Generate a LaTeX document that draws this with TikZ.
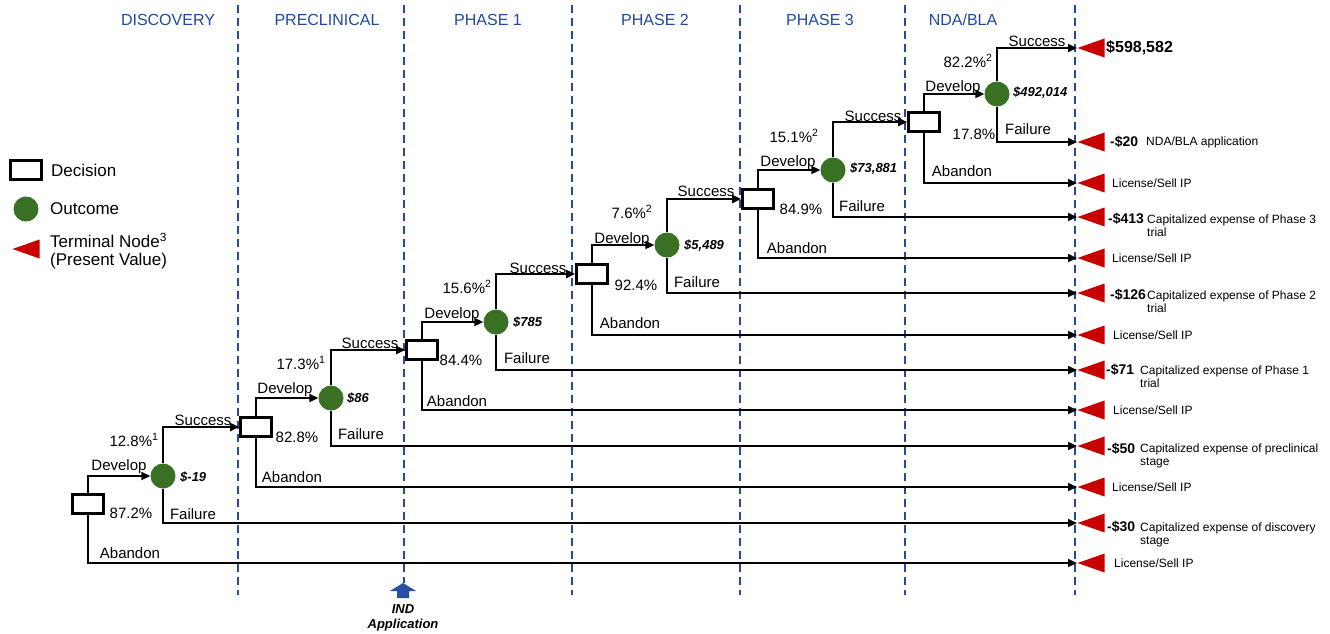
\documentclass[tikz,border=0pt]{standalone}
\usepackage{fontspec}
\setmainfont{Liberation Sans}
\usetikzlibrary{arrows.meta,shapes.geometric}
\definecolor{stageblue}{RGB}{31,73,160}
\definecolor{dashblue}{RGB}{35,75,155}
\definecolor{outgreen}{RGB}{58,112,35}
\definecolor{termred}{RGB}{200,0,0}
\definecolor{indblue}{RGB}{40,80,165}
\begin{document}
\begin{tikzpicture}[x=1pt,y=-1pt,
  decision/.style={draw=black, line width=2.8pt, fill=white, minimum width=31pt, minimum height=19pt, inner sep=0pt},
  outcome/.style={circle, fill=outgreen, minimum size=25pt, inner sep=0pt},
  terminal/.style={isosceles triangle, shape border rotate=180, isosceles triangle stretches, fill=termred, minimum width=19pt, minimum height=27pt, inner sep=0pt, anchor=apex},
  edge/.style={line width=2pt, -{Triangle[length=9pt,width=8pt]}},
  stagesep/.style={draw=dashblue, line width=1.8pt, dash pattern=on 8pt off 5pt},
  stagelbl/.style={font=\fontsize{16}{18}\selectfont, text=stageblue, inner sep=0pt},
  lbl/.style={font=\fontsize{15}{17}\selectfont, inner sep=0pt},
  val/.style={font=\fontsize{13}{15}\selectfont\bfseries\itshape, inner sep=0pt, anchor=west},
  amt/.style={font=\fontsize{14}{16}\selectfont\bfseries, inner sep=0pt, anchor=west},
  desc/.style={font=\fontsize{12}{13}\selectfont, inner sep=0pt, anchor=west, align=left},
  leg/.style={font=\fontsize{17}{20}\selectfont, inner sep=0pt, anchor=west, align=left},
]
\useasboundingbox (0,0) rectangle (1330,633);

% stage separators
\foreach \xx in {238,572,740,905,1075} \draw[stagesep] (\xx,5) -- (\xx,595);
\draw[stagesep] (404,5) -- (404,583);

% stage labels
\node[stagelbl] (sDisc) at (168,20) {DISCOVERY};
\node[stagelbl] (sPre) at (327,20) {PRECLINICAL};
\node[stagelbl] (sP1) at (488,20) {PHASE 1};
\node[stagelbl] (sP2) at (655,20) {PHASE 2};
\node[stagelbl] (sP3) at (820,20) {PHASE 3};
\node[stagelbl] (sNDA) at (963,20) {NDA/BLA};

% legend
\node[decision] (legD) at (26,170) {};
\node[leg] (legDt) at (51,170) {Decision};
\node[outcome] (legO) at (26,209) {};
\node[leg] (legOt) at (50,209) {Outcome};
\node[terminal] (legT) at (12,249) {};
\node[leg] (legTt) at (50,251) {Terminal Node\textsuperscript{3}\\[-2pt](Present Value)};

% decision and outcome nodes
\node[decision] (d1) at (88,504) {};
\node[outcome] (o1) at (163,476) {};
\node[decision] (d2) at (256,427) {};
\node[outcome] (o2) at (331,398) {};
\node[decision] (d3) at (422,350) {};
\node[outcome] (o3) at (496,322) {};
\node[decision] (d4) at (592,274) {};
\node[outcome] (o4) at (667,245) {};
\node[decision] (d5) at (758,199) {};
\node[outcome] (o5) at (833,170) {};
\node[decision] (d6) at (924,122) {};
\node[outcome] (o6) at (997,94) {};

% terminal nodes
\node[terminal] (tS6) at (1077,48) {};
\node[terminal] (tF6) at (1077,142) {};
\node[terminal] (tA6) at (1077,183) {};
\node[terminal] (tF5) at (1077,217) {};
\node[terminal] (tA5) at (1077,258) {};
\node[terminal] (tF4) at (1077,293) {};
\node[terminal] (tA4) at (1077,335) {};
\node[terminal] (tF3) at (1077,370) {};
\node[terminal] (tA3) at (1077,410) {};
\node[terminal] (tF2) at (1077,446) {};
\node[terminal] (tA2) at (1077,487) {};
\node[terminal] (tF1) at (1077,523) {};
\node[terminal] (tA1) at (1077,563) {};

% connectors
\draw[edge] (d1.north) |- (o1.west);
\draw[edge] (d1.south) |- (tA1.apex);
\draw[edge] (o1.north) |- (d2.west);
\draw[edge] (o1.south) |- (tF1.apex);
\draw[edge] (d2.north) |- (o2.west);
\draw[edge] (d2.south) |- (tA2.apex);
\draw[edge] (o2.north) |- (d3.west);
\draw[edge] (o2.south) |- (tF2.apex);
\draw[edge] (d3.north) |- (o3.west);
\draw[edge] (d3.south) |- (tA3.apex);
\draw[edge] (o3.north) |- (d4.west);
\draw[edge] (o3.south) |- (tF3.apex);
\draw[edge] (d4.north) |- (o4.west);
\draw[edge] (d4.south) |- (tA4.apex);
\draw[edge] (o4.north) |- (d5.west);
\draw[edge] (o4.south) |- (tF4.apex);
\draw[edge] (d5.north) |- (o5.west);
\draw[edge] (d5.south) |- (tA5.apex);
\draw[edge] (o5.north) |- (d6.west);
\draw[edge] (o5.south) |- (tF5.apex);
\draw[edge] (d6.north) |- (o6.west);
\draw[edge] (d6.south) |- (tA6.apex);
\draw[edge] (o6.north) |- (tS6.apex);
\draw[edge] (o6.south) |- (tF6.apex);

% develop labels
\node[lbl] (dv1) at (119,467) {Develop};
\node[lbl] (dv2) at (285,390) {Develop};
\node[lbl] (dv3) at (452,315) {Develop};
\node[lbl] (dv4) at (622,240) {Develop};
\node[lbl] (dv5) at (788,163) {Develop};
\node[lbl] (dv6) at (953,88) {Develop};
% success labels
\node[lbl] (sc1) at (203,420) {Success};
\node[lbl] (sc2) at (370,343) {Success};
\node[lbl] (sc3) at (538,268) {Success};
\node[lbl] (sc4) at (706,191) {Success};
\node[lbl] (sc5) at (873,116) {Success};
\node[lbl] (sc6) at (1037,41) {Success};
% success probabilities
\node[lbl] (ps1) at (134,440) {12.8\%\textsuperscript{1}};
\node[lbl] (ps2) at (301,363) {17.3\%\textsuperscript{1}};
\node[lbl] (ps3) at (467,287) {15.6\%\textsuperscript{2}};
\node[lbl] (ps4) at (632,212) {7.6\%\textsuperscript{2}};
\node[lbl] (ps5) at (794,136) {15.1\%\textsuperscript{2}};
\node[lbl] (ps6) at (968,61) {82.2\%\textsuperscript{2}};
% failure probabilities
\node[lbl] (pf1) at (131,513) {87.2\%};
\node[lbl] (pf2) at (297,437) {82.8\%};
\node[lbl] (pf3) at (461,360) {84.4\%};
\node[lbl] (pf4) at (636,285) {92.4\%};
\node[lbl] (pf5) at (801,209) {84.9\%};
\node[lbl] (pf6) at (974,134) {17.8\%};
% failure labels
\node[lbl] (fl1) at (193,514) {Failure};
\node[lbl] (fl2) at (361,434) {Failure};
\node[lbl] (fl3) at (527,358) {Failure};
\node[lbl] (fl4) at (697,282) {Failure};
\node[lbl] (fl5) at (862,206) {Failure};
\node[lbl] (fl6) at (1028,129) {Failure};
% abandon labels
\node[lbl] (ab1) at (130,553) {Abandon};
\node[lbl] (ab2) at (292,477) {Abandon};
\node[lbl] (ab3) at (457,401) {Abandon};
\node[lbl] (ab4) at (630,323) {Abandon};
\node[lbl] (ab5) at (797,248) {Abandon};
\node[lbl] (ab6) at (962,171) {Abandon};
% outcome values
\node[val] (v1) at (180,477) {\$-19};
\node[val] (v2) at (347,398) {\$86};
\node[val] (v3) at (513,322) {\$785};
\node[val] (v4) at (684,246) {\$5,489};
\node[val] (v5) at (850,169) {\$73,881};
\node[val] (v6) at (1013,93) {\$492,014};

% terminal values
\node[amt, font=\fontsize{16}{18}\selectfont\bfseries] (aS6) at (1106,48) {\$598,582};
\node[amt] (aF6) at (1110,142) {-\$20};
\node[desc] (eF6) at (1146,142) {NDA/BLA application};
\node[desc] (eA6) at (1112,183) {License/Sell IP};
\node[amt] (aF5) at (1108,219) {-\$413};
\node[desc] (eF5) at (1147,226) {Capitalized expense of Phase 3\\trial};
\node[desc] (eA5) at (1112,258) {License/Sell IP};
\node[amt] (aF4) at (1110,295) {-\$126};
\node[desc] (eF4) at (1147,302) {Capitalized expense of Phase 2\\trial};
\node[desc] (eA4) at (1113,335) {License/Sell IP};
\node[amt] (aF3) at (1106,370) {-\$71};
\node[desc] (eF3) at (1140,377) {Capitalized expense of Phase 1\\trial};
\node[desc] (eA3) at (1113,410) {License/Sell IP};
\node[amt] (aF2) at (1107,449) {-\$50};
\node[desc] (eF2) at (1140,456) {Capitalized expense of preclinical\\stage};
\node[desc] (eA2) at (1112,487) {License/Sell IP};
\node[amt] (aF1) at (1107,527) {-\$30};
\node[desc] (eF1) at (1140,535) {Capitalized expense of discovery\\stage};
\node[desc] (eA1) at (1114,563) {License/Sell IP};

% IND application marker
\fill[indblue] (397,598) -- (397,591) -- (390,591) -- (403,583) -- (416,591) -- (409,591) -- (409,598) -- cycle;
\node[font=\fontsize{13}{15}\selectfont\bfseries\itshape, align=center, inner sep=0pt] (ind) at (403,618) {IND\\Application};
\end{tikzpicture}
\end{document}
